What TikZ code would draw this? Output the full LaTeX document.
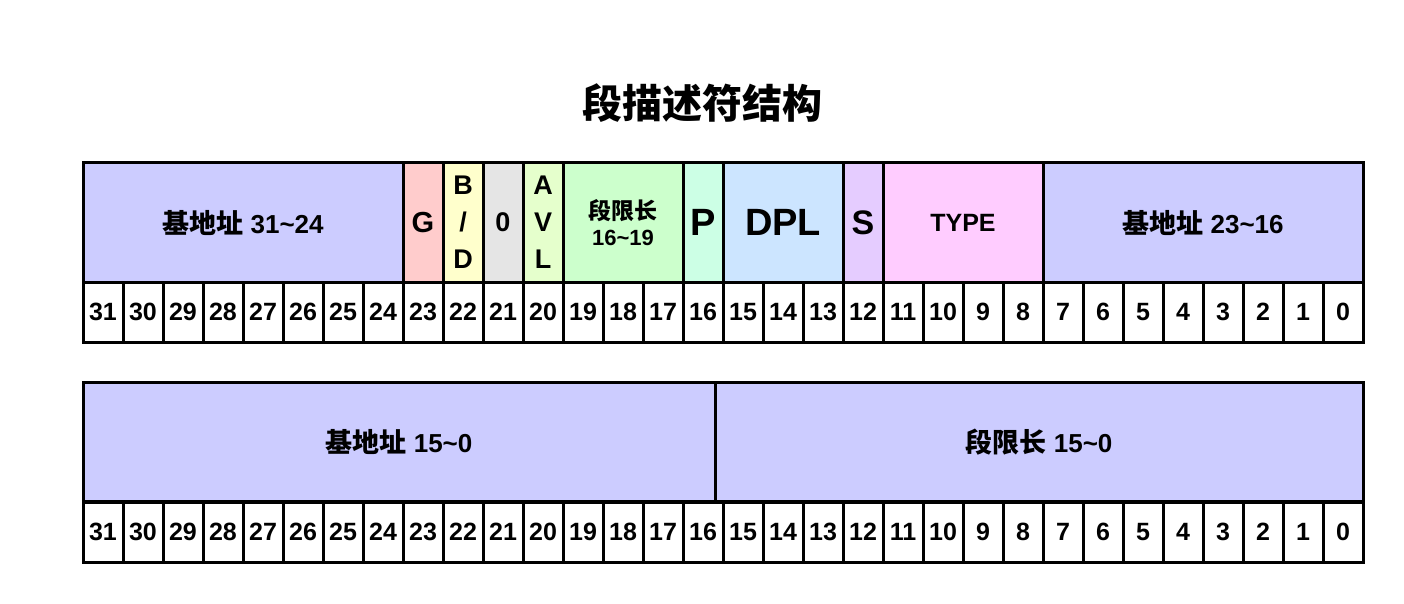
\documentclass[tikz,border=0pt]{standalone}
\usepackage{fontspec}
\setmainfont{Liberation Sans}
\newfontfamily\cjk{Noto Sans CJK SC}
\definecolor{cbase}{HTML}{CCCCFF}
\definecolor{cG}{HTML}{FFCCCC}
\definecolor{cBD}{HTML}{FFFFCC}
\definecolor{czero}{HTML}{E5E5E5}
\definecolor{cAVL}{HTML}{E5FFCC}
\definecolor{climit}{HTML}{CCFFCC}
\definecolor{cP}{HTML}{CCFFE5}
\definecolor{cDPL}{HTML}{CCE5FF}
\definecolor{cS}{HTML}{E5CCFF}
\definecolor{cTYPE}{HTML}{FFCCFF}
\newcommand\fsz[2]{\fontsize{#1}{#2}\selectfont}
\newcommand\cj[1]{{\cjk\fsz{27}{30}#1}}
\begin{document}
\begin{tikzpicture}[x=1pt,y=-1pt,
  cell/.style={draw=black, line width=3pt, inner sep=0pt, align=center, font=\bfseries\fsz{26}{30}},
  tall/.style={cell, minimum height=119pt},
  bitcell/.style={cell, fill=white, minimum width=40pt, minimum height=60pt, font=\bfseries\fsz{25}{28}},
  title/.style={font=\cjk\bfseries\fsz{40}{44}, inner sep=0pt}]
\useasboundingbox (0,0) rectangle (1404,604);
\node[title] (ttl) at (702,103) {段描述符结构};
% first descriptor word
\node[tall, fill=cbase, minimum width=320pt] (b3124) at (243,222.5) {\cj{基地址} 31\textasciitilde 24};
\node[tall, fill=cG, minimum width=40pt, font=\bfseries\fsz{29}{32}] (g) at (423,222.5) {G};
\node[tall, fill=cBD, minimum width=40pt, font=\bfseries\fsz{27}{37}] (bd) at (463,222.5) {B\\/\\D};
\node[tall, fill=czero, minimum width=40pt, font=\bfseries\fsz{27}{30}] (z) at (503,222.5) {0};
\node[tall, fill=cAVL, minimum width=40pt, font=\bfseries\fsz{27}{37}] (avl) at (543,222.5) {A\\V\\L};
\node[tall, fill=climit, minimum width=120pt, font=\bfseries\fsz{22}{26}] (lim) at (623,222.5) {{\cjk\fsz{23}{26}段限长}\\16\textasciitilde 19};
\node[tall, fill=cP, minimum width=40pt, font=\bfseries\fsz{38}{42}] (p) at (703,222.5) {P};
\node[tall, fill=cDPL, minimum width=120pt, font=\bfseries\fsz{38}{42}] (dpl) at (783,222.5) {DPL};
\node[tall, fill=cS, minimum width=40pt, font=\bfseries\fsz{34}{38}] (s) at (863,222.5) {S};
\node[tall, fill=cTYPE, minimum width=160pt, font=\bfseries\fsz{25}{28}] (type) at (963,222.5) {TYPE};
\node[tall, fill=cbase, minimum width=320pt] (b2316) at (1203,222.5) {\cj{基地址} 23\textasciitilde 16};
\foreach \b in {0,...,31} {
  \pgfmathsetmacro\xc{103+40*(31-\b)}
  \node[bitcell] (t\b) at (\xc,312) {\b};
}
% second descriptor word
\node[tall, fill=cbase, minimum width=632pt] (b150) at (399,442) {\cj{基地址} 15\textasciitilde 0};
\node[tall, fill=cbase, minimum width=648pt] (l150) at (1039,442) {\cj{段限长} 15\textasciitilde 0};
\foreach \b in {0,...,31} {
  \pgfmathsetmacro\xc{103+40*(31-\b)}
  \node[bitcell] (u\b) at (\xc,532) {\b};
}
\end{tikzpicture}
\end{document}
